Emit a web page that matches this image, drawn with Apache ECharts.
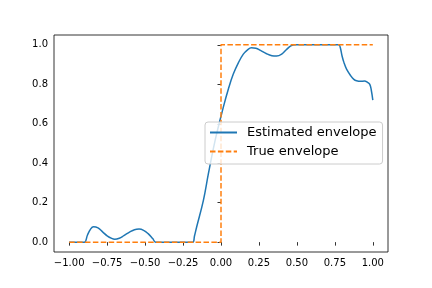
<!DOCTYPE html>
<html>
<head>
<meta charset="utf-8">
<script src="https://cdn.jsdelivr.net/npm/echarts@6/dist/echarts.min.js"></script>
<style>html,body{margin:0;padding:0;background:#fff;}#c{width:432px;height:288px;}</style>
</head>
<body>
<div id="c"></div>
<script>
var estX = [-1.00,-0.95,-0.90,-0.88,-0.86,-0.84,-0.81,-0.78,-0.75,-0.72,-0.70,-0.67,-0.64,-0.60,-0.57,-0.54,-0.51,-0.48,-0.45,-0.43,-0.35,-0.25,-0.186,-0.175,-0.16,-0.116,-0.083,-0.039,0.015,0.05,0.081,0.115,0.147,0.175,0.20,0.23,0.26,0.30,0.335,0.366,0.40,0.43,0.46,0.49,0.60,0.70,0.776,0.786,0.797,0.81,0.827,0.855,0.875,0.893,0.92,0.945,0.965,0.98,0.99,1.00];
var estY = [0,0,0,0.035,0.065,0.078,0.072,0.052,0.032,0.019,0.015,0.020,0.033,0.052,0.063,0.066,0.060,0.043,0.018,0,0,0,0,0.03,0.078,0.212,0.347,0.515,0.683,0.78,0.852,0.91,0.953,0.975,0.985,0.983,0.972,0.955,0.945,0.943,0.953,0.975,0.995,1.0,1.0,1.0,1.0,0.985,0.945,0.91,0.877,0.843,0.825,0.818,0.815,0.817,0.81,0.80,0.77,0.72];
var trueX = [-1, 0, 0, 1];
var trueY = [0, 0, 1, 1];
var xTicks = [-1, -0.75, -0.5, -0.25, 0, 0.25, 0.5, 0.75, 1];
var yTicks = [0, 0.2, 0.4, 0.6, 0.8, 1.0];
var seriesNames = ['Estimated envelope', 'True envelope'];

function zip(a, b) { return a.map(function (v, i) { return [v, b[i]]; }); }
function fmt(v, d) { var s = Math.abs(v).toFixed(d); return (v < -1e-9 ? '\u2212' : '') + s; }

var chart = echarts.init(document.getElementById('c'), null, {renderer: 'canvas'});
var font = 'DejaVu Sans';
chart.setOption({
  animation: false,
  backgroundColor: '#fff',
  textStyle: {fontFamily: font},
  grid: {left: 54, right: 44, top: 35, bottom: 36, show: true, borderColor: '#000', borderWidth: 0.8, backgroundColor: 'transparent'},
  xAxis: {
    type: 'value', min: -1.1, max: 1.1,
    axisLine: {show: false},
    splitLine: {show: false},
    axisTick: {show: true, length: 3.5, lineStyle: {color: '#000', width: 0.8}, customValues: xTicks},
    axisLabel: {color: '#000', fontSize: 10, fontFamily: font, margin: 6, customValues: xTicks, formatter: function (v) { return fmt(v, 2); }}
  },
  yAxis: {
    type: 'value', min: -0.05, max: 1.05,
    axisLine: {show: false},
    splitLine: {show: false},
    axisTick: {show: true, length: 3.5, lineStyle: {color: '#000', width: 0.8}, customValues: yTicks},
    axisLabel: {color: '#000', fontSize: 10, fontFamily: font, margin: 6, customValues: yTicks, formatter: function (v) { return fmt(v, 1); }}
  },
  legend: {
    orient: 'vertical', left: 205, top: 122,
    padding: [4, 6, 6, 4],
    itemWidth: 27, itemHeight: 14, itemGap: 6,
    backgroundColor: 'rgba(255,255,255,0.8)',
    borderColor: '#cccccc', borderWidth: 1, borderRadius: 3,
    itemStyle: {color: 'transparent', borderWidth: 0, opacity: 0},
    textStyle: {fontSize: 13, color: '#000', fontFamily: font, padding: [0, 0, 0, 5]},
    data: seriesNames
  },
  series: [
    {
      name: seriesNames[0], type: 'line', data: zip(estX, estY),
      smooth: 0.4, symbol: 'none',
      lineStyle: {color: '#1f77b4', width: 1.5},
      itemStyle: {color: '#1f77b4'}
    },
    {
      name: seriesNames[1], type: 'line', data: zip(trueX, trueY),
      symbol: 'none',
      lineStyle: {color: '#ff7f0e', width: 1.5, type: [5.5, 2.4]},
      itemStyle: {color: '#ff7f0e'}
    }
  ]
});
</script>
</body>
</html>
